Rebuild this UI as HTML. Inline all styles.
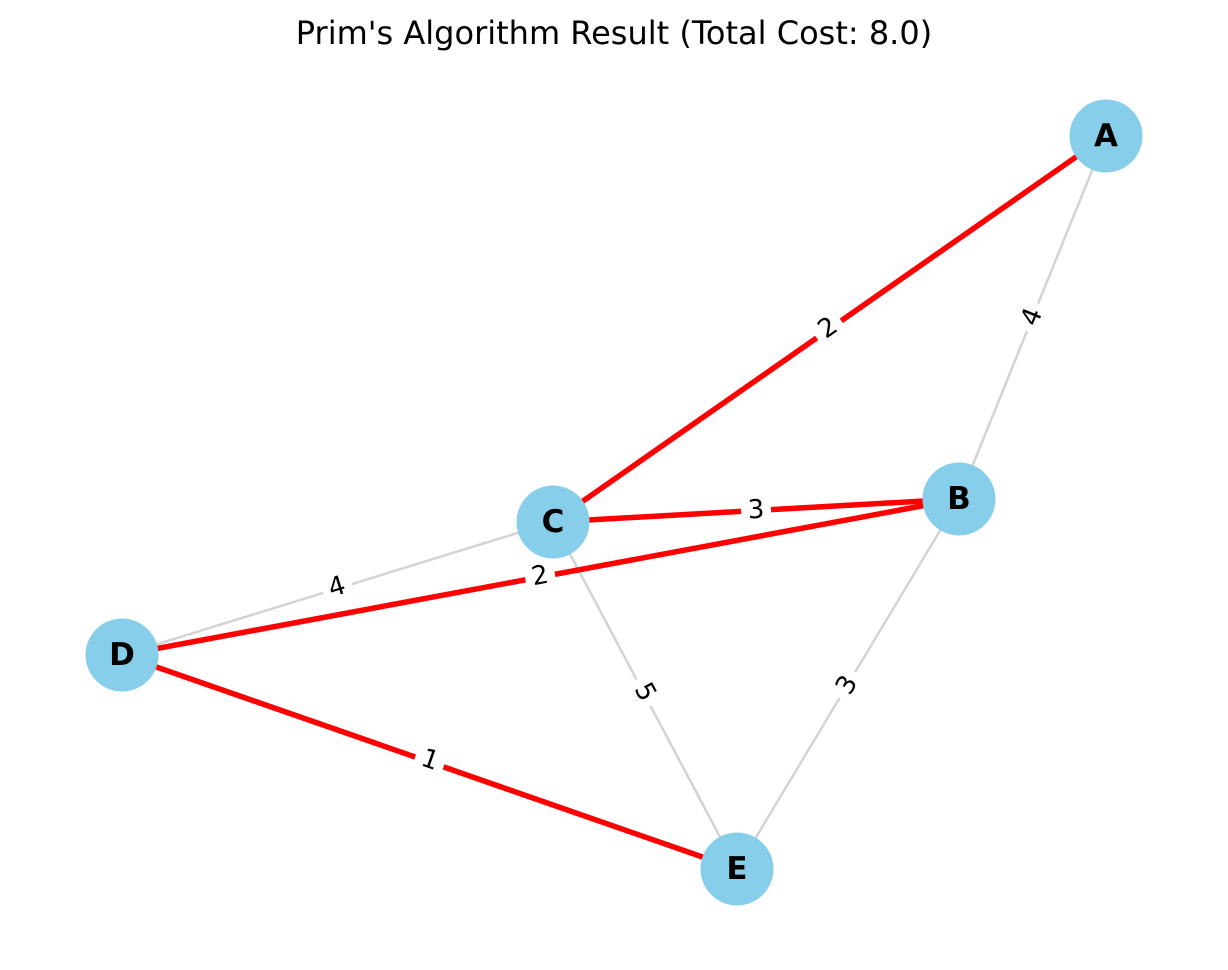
<!DOCTYPE html>
<html><head><meta charset="utf-8"><style>html,body{margin:0;padding:0;background:#fff}</style></head>
<body>
<svg width="1228" height="965" xmlns="http://www.w3.org/2000/svg" font-family="'DejaVu Sans', 'Liberation Sans', sans-serif">
<rect width="1228" height="965" fill="#fff"/>
<text x="614" y="44" font-size="32" text-anchor="middle" fill="#000">Prim's Algorithm Result (Total Cost: 8.0)</text>
<g stroke="#d3d3d3" stroke-width="2.5">
<line x1="1106" y1="136" x2="959" y2="499"/>
<line x1="553" y1="522" x2="122" y2="655"/>
<line x1="553" y1="522" x2="737" y2="869"/>
<line x1="959" y1="499" x2="737" y2="869"/>
</g>
<g stroke="#ff0000" stroke-width="5.5">
<line x1="1106" y1="136" x2="553" y2="522"/>
<line x1="553" y1="522" x2="959" y2="499"/>
<line x1="122" y1="655" x2="959" y2="499"/>
<line x1="122" y1="655" x2="737" y2="869"/>
</g>
<g font-size="26" text-anchor="middle" dominant-baseline="central" fill="#000">
<g transform="translate(828,328) rotate(-34.9)"><rect x="-15" y="-16" width="30" height="32" fill="#fff"/><text>2</text></g>
<g transform="translate(756,510) rotate(-3.2)"><rect x="-15" y="-16" width="30" height="32" fill="#fff"/><text>3</text></g>
<g transform="translate(540,576) rotate(-10.6)"><rect x="-15" y="-16" width="30" height="32" fill="#fff"/><text>2</text></g>
<g transform="translate(337,587) rotate(-17)"><rect x="-15" y="-16" width="30" height="32" fill="#fff"/><text>4</text></g>
<g transform="translate(645,692) rotate(62)"><rect x="-15" y="-16" width="30" height="32" fill="#fff"/><text>5</text></g>
<g transform="translate(847,685) rotate(-59)"><rect x="-15" y="-16" width="30" height="32" fill="#fff"/><text>3</text></g>
<g transform="translate(1032,317) rotate(-68)"><rect x="-15" y="-16" width="30" height="32" fill="#fff"/><text>4</text></g>
<g transform="translate(430,760) rotate(19.2)"><rect x="-15" y="-16" width="30" height="32" fill="#fff"/><text>1</text></g>
</g>
<g fill="#87ceeb">
<circle cx="1106" cy="136" r="36.5"/>
<circle cx="959" cy="499" r="36.5"/>
<circle cx="553" cy="522" r="36.5"/>
<circle cx="122" cy="655" r="36.5"/>
<circle cx="737" cy="869" r="36.5"/>
</g>
<g font-size="31" font-weight="bold" text-anchor="middle" dominant-baseline="central" fill="#000">
<text x="1106" y="136">A</text>
<text x="959" y="499">B</text>
<text x="553" y="522">C</text>
<text x="122" y="655">D</text>
<text x="737" y="869">E</text>
</g>
</svg>
</body></html>
